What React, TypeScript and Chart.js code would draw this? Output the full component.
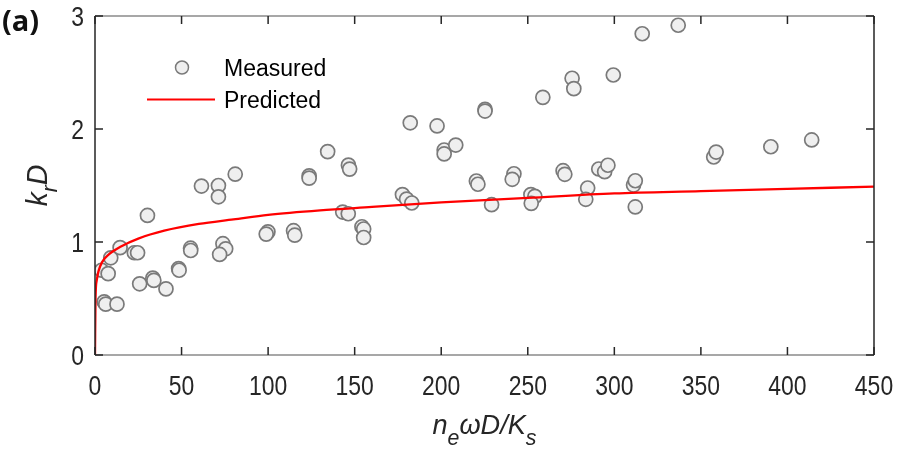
import { useEffect, useRef } from "react";
import { Chart, registerables } from "chart.js";

Chart.register(...registerables);

// Measured data (x = n_e ωD/K_s, y = k_r D)
const measuredX = [
  3.8, 7.6, 9.1, 14.5, 5.3, 6.2, 12.7, 22.7, 24.6, 25.8, 30.3, 33.4, 34.0, 41.0,
  48.3, 48.6, 55.2, 55.3, 61.5, 71.3, 71.3, 73.9, 75.5, 72.0, 81.0, 99.9, 98.9,
  114.7, 115.4, 123.7, 123.7, 134.4, 143.1, 146.3, 146.4, 147.1, 154.2, 155.2,
  155.2, 177.6, 180.0, 183.0, 182.1, 197.6, 201.7, 201.7, 208.4, 220.3, 221.2,
  225.3, 225.3, 229.1, 242.0, 241.0, 251.8, 254.1, 252.0, 258.7, 270.4, 271.4,
  275.6, 276.6, 284.6, 283.5, 291.0, 294.4, 296.3, 299.4, 311.1, 312.1, 312.1,
  316.1, 336.9, 357.4, 358.8, 390.4, 414.0,
];
const measuredY = [
  0.75, 0.72, 0.86, 0.95, 0.47, 0.45, 0.45, 0.905, 0.905, 0.63, 1.235, 0.68, 0.66,
  0.585, 0.765, 0.75, 0.945, 0.925, 1.495, 1.5, 1.4, 0.985, 0.94, 0.89, 1.6, 1.09,
  1.07, 1.1, 1.06, 1.585, 1.565, 1.8, 1.265, 1.25, 1.68, 1.645, 1.135, 1.115, 1.04,
  1.42, 1.38, 1.345, 2.055, 2.027, 1.814, 1.779, 1.858, 1.54, 1.511, 2.174, 2.159,
  1.33, 1.604, 1.555, 1.419, 1.404, 1.342, 2.28, 1.631, 1.599, 2.449, 2.357, 1.478,
  1.378, 1.646, 1.622, 1.679, 2.478, 1.504, 1.542, 1.31, 2.843, 2.918, 1.752, 1.796,
  1.843, 1.903,
];

// Predicted curve
const predictedX = [0, 0.3, 1, 2, 4, 8, 15, 25, 40, 60, 80, 100, 130, 160, 200, 250, 300, 350, 400, 450];
const predictedY = [0, 0.5, 0.66, 0.74, 0.82, 0.89, 0.96, 1.03, 1.1, 1.16, 1.2, 1.24, 1.28, 1.31, 1.35, 1.39, 1.43, 1.45, 1.47, 1.49];

const xTicks = [0, 50, 100, 150, 200, 250, 300, 350, 400, 450];
const yTicks = [0, 1, 2, 3];
const seriesNames = ["Measured", "Predicted"];
const panelLabel = "(a)";

const AXIS_DARK = "#262626";
const AXIS_GRAY = "#8a8a8a";
const TICK_FONT = "27px 'Liberation Sans', Arial, sans-serif";
const TICK_SX = 0.85;

function condensed(ctx: CanvasRenderingContext2D, text: string, x: number, y: number, align: CanvasTextAlign, sx: number) {
  ctx.save();
  ctx.translate(x, y);
  ctx.scale(sx, 1);
  ctx.textAlign = align;
  ctx.fillText(text, 0, 0);
  ctx.restore();
}

type Piece = { t: string; sub?: boolean };

function drawRich(ctx: CanvasRenderingContext2D, pieces: Piece[], cx: number, baseY: number, size: number, subSize: number, subDrop: number, sx: number) {
  const mainFont = `italic ${size}px 'Liberation Sans', Arial, sans-serif`;
  const subFont = `italic ${subSize}px 'Liberation Sans', Arial, sans-serif`;
  let total = 0;
  const widths: number[] = [];
  for (const p of pieces) {
    ctx.font = p.sub ? subFont : mainFont;
    const w = ctx.measureText(p.t).width * sx;
    widths.push(w);
    total += w;
  }
  let x = cx - total / 2;
  ctx.textBaseline = "alphabetic";
  pieces.forEach((p, i) => {
    ctx.font = p.sub ? subFont : mainFont;
    ctx.save();
    ctx.translate(x, baseY + (p.sub ? subDrop : 0));
    ctx.scale(sx, 1);
    ctx.textAlign = "left";
    ctx.fillText(p.t, 0, 0);
    ctx.restore();
    x += widths[i];
  });
}

const matlabAxes = {
  id: "matlabAxes",
  afterDraw(chart: any) {
    const ctx: CanvasRenderingContext2D = chart.ctx;
    const { left, right, top, bottom } = chart.chartArea;
    const xs = chart.scales.x;
    const ys = chart.scales.y;
    const tl = 8;

    ctx.save();
    // box
    ctx.lineWidth = 1.5;
    ctx.strokeStyle = AXIS_GRAY;
    ctx.beginPath();
    ctx.moveTo(left, top);
    ctx.lineTo(right, top);
    ctx.moveTo(left, bottom);
    ctx.lineTo(right, bottom);
    ctx.stroke();
    ctx.strokeStyle = AXIS_DARK;
    ctx.beginPath();
    ctx.moveTo(left, top);
    ctx.lineTo(left, bottom);
    ctx.moveTo(right, top);
    ctx.lineTo(right, bottom);
    ctx.stroke();

    // ticks
    ctx.strokeStyle = AXIS_DARK;
    ctx.lineWidth = 1.5;
    ctx.beginPath();
    for (const v of xTicks) {
      const px = xs.getPixelForValue(v);
      ctx.moveTo(px, bottom);
      ctx.lineTo(px, bottom - tl);
      ctx.moveTo(px, top);
      ctx.lineTo(px, top + tl);
    }
    for (const v of yTicks) {
      const py = ys.getPixelForValue(v);
      ctx.moveTo(left, py);
      ctx.lineTo(left + tl, py);
      ctx.moveTo(right, py);
      ctx.lineTo(right - tl, py);
    }
    ctx.stroke();

    // tick labels
    ctx.fillStyle = AXIS_DARK;
    ctx.font = TICK_FONT;
    ctx.textBaseline = "alphabetic";
    for (const v of xTicks) {
      condensed(ctx, String(v), xs.getPixelForValue(v), bottom + 40, "center", TICK_SX);
    }
    for (const v of yTicks) {
      condensed(ctx, String(v), left - 11, ys.getPixelForValue(v) + 9.5, "right", TICK_SX);
    }

    // x title
    drawRich(
      ctx,
      [{ t: "n" }, { t: "e", sub: true }, { t: "ωD/K" }, { t: "s", sub: true }],
      (left + right) / 2,
      bottom + 79,
      28,
      22,
      11,
      0.97
    );
    // y title
    ctx.save();
    ctx.translate(47, (top + bottom) / 2);
    ctx.rotate(-Math.PI / 2);
    drawRich(ctx, [{ t: "k" }, { t: "r", sub: true }, { t: "D" }], 0, 0, 29, 22, 10, 0.97);
    ctx.restore();

    // legend
    const m = chart.data.datasets[1];
    ctx.beginPath();
    ctx.arc(182, 67.5, 6.5, 0, Math.PI * 2);
    ctx.fillStyle = m.backgroundColor;
    ctx.fill();
    ctx.lineWidth = 1.5;
    ctx.strokeStyle = m.borderColor;
    ctx.stroke();
    const p = chart.data.datasets[0];
    ctx.beginPath();
    ctx.moveTo(147, 99.5);
    ctx.lineTo(215, 99.5);
    ctx.strokeStyle = p.borderColor;
    ctx.lineWidth = 2.2;
    ctx.stroke();
    ctx.fillStyle = "#000";
    ctx.font = "23px 'Liberation Sans', Arial, sans-serif";
    ctx.textAlign = "left";
    ctx.textBaseline = "alphabetic";
    ctx.fillText(seriesNames[0], 224, 76);
    ctx.fillText(seriesNames[1], 224, 108);

    // panel label
    ctx.font = "bold 29px 'Open Sans', 'DejaVu Sans', sans-serif";
    ctx.fillStyle = "#111";
    ctx.fillText(panelLabel, 2, 31);
    ctx.restore();
  },
};

export default function App() {
  const ref = useRef<HTMLCanvasElement | null>(null);
  useEffect(() => {
    if (!ref.current) return;
    const chart = new Chart(ref.current, {
      type: "scatter",
      data: {
        datasets: [
          {
            label: seriesNames[1],
            data: predictedX.map((x, i) => ({ x, y: predictedY[i] })),
            showLine: true,
            borderColor: "#ff0000",
            backgroundColor: "#ff0000",
            borderWidth: 2.3,
            pointRadius: 0,
            cubicInterpolationMode: "monotone",
          },
          {
            label: seriesNames[0],
            data: measuredX.map((x, i) => ({ x, y: measuredY[i] })),
            pointRadius: 7,
            pointBorderWidth: 1.7,
            borderColor: "#7a7a7a",
            backgroundColor: "#efefef",
            pointHoverRadius: 7,
          },
        ],
      },
      options: {
        responsive: false,
        animation: false,
        events: [],
        layout: { padding: { left: 95, right: 26, top: 16, bottom: 97 } },
        plugins: { legend: { display: false }, tooltip: { enabled: false } },
        scales: {
          x: { type: "linear", min: 0, max: 450, display: false },
          y: { type: "linear", min: 0, max: 3, display: false },
        },
      },
      plugins: [matlabAxes],
    });
    return () => chart.destroy();
  }, []);
  return (
    <div style={{ position: "fixed", left: 0, top: 0, width: 900, height: 452, background: "#fff" }}>
      <canvas ref={ref} width={900} height={452} style={{ display: "block" }} />
    </div>
  );
}
